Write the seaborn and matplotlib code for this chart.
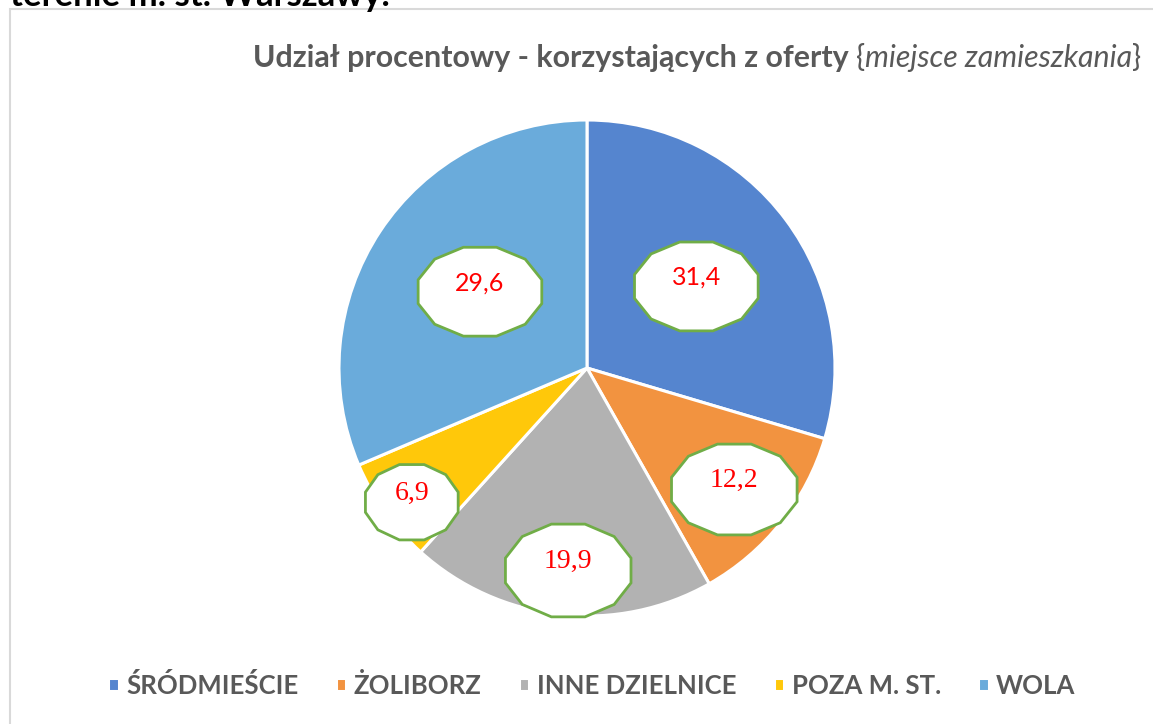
import numpy as np
import matplotlib
matplotlib.use("Agg")
import matplotlib.pyplot as plt
import seaborn as sns
from matplotlib.patches import Polygon, Rectangle

# ---- data ----
categories = ["ŚRÓDMIEŚCIE", "ŻOLIBORZ", "INNE DZIELNICE", "POZA M. ST.", "WOLA"]
slice_values = [29.6, 12.2, 19.9, 6.9, 31.4]          # wedge sizes as drawn
label_texts = ["31,4", "12,2", "19,9", "6,9", "29,6"]  # data labels as shown
colors = ["#5585CF", "#F29340", "#B2B2B2", "#FFC80A", "#6AABDB"]

title_bold = "Udział procentowy - korzystających z oferty "
title_italic = "miejsce zamieszkania"
header_text = "terenie m. st. Warszawy."

sns.set_theme(style="white")

W, H = 1153, 724
fig = plt.figure(figsize=(W / 100, H / 100), dpi=100)
fig.patch.set_facecolor("white")

R = 248.0
cx, cy = 587.0, 368.0
ax = fig.add_axes([0, 0, 1, 1])

wedges, _ = ax.pie(slice_values, colors=colors, startangle=90, counterclock=False,
                   radius=1.0, wedgeprops=dict(edgecolor="white", linewidth=2.2))
ax.set_aspect("auto")
ax.set_xlim(-cx / R, (W - cx) / R)
ax.set_ylim(-(H - cy) / R, cy / R)
ax.axis("off")

# data labels in dodecagon shapes
rfrac = [0.55, 0.77, 0.82, 0.89, 0.53]
angle_shift = [0, -1, 1, 2, -2]
half_w = [64, 65, 65, 48, 64]
half_h = [46, 47, 48, 39, 46]
fonts = ["Lato", "Liberation Serif", "Liberation Serif", "Liberation Serif", "Lato"]
fsizes = [18, 20, 20, 20, 18]
angs = np.deg2rad(15 + 30 * np.arange(12))
for w, txt, rf, sh, hw, hh, fn, fs in zip(wedges, label_texts, rfrac, angle_shift,
                                          half_w, half_h, fonts, fsizes):
    mid = np.deg2rad((w.theta1 + w.theta2) / 2 + sh)
    x, y = rf * np.cos(mid), rf * np.sin(mid)
    verts = np.column_stack([x + hw / R * np.cos(angs), y + hh / R * np.sin(angs)])
    ax.add_patch(Polygon(verts, closed=True, facecolor="white", edgecolor="#70AD47",
                         linewidth=2.0, zorder=5))
    ax.text(x, y + 9 / R, txt, color="#FF0000", fontsize=fs, family=fn,
            ha="center", va="center", zorder=6)

# legend
leg = ax.legend(wedges, categories, ncol=5, loc="center",
                bbox_to_anchor=(592 / W, 1 - 685 / H), bbox_transform=fig.transFigure,
                frameon=False, handlelength=0.4, handleheight=0.4,
                handletextpad=0.3, columnspacing=1.45,
                prop=dict(family="Lato", weight="bold", size=18.5))
for t in leg.get_texts():
    t.set_color("#595959")

# chart border
fig.add_artist(Rectangle((10 / W, -0.1), 1.2, 1 - 9.5 / H + 0.1, transform=fig.transFigure,
                         facecolor="none", edgecolor="#D9D9D9", linewidth=1.5))

# header (cut off at top, as in the source)
fig.text(10 / W, 1 - 6 / H, header_text, fontsize=25, family="Lato", weight="bold",
         color="black", ha="left", va="baseline")

# title pieces, fitted to width
renderer = fig.canvas.get_renderer()
pieces = [(title_bold, "normal", "bold"), ("{", "normal", "normal"),
          (title_italic, "italic", "normal"), ("}", "normal", "normal")]
target_w = 1143 - 253
base = 20
def measure(size):
    tot = 0
    for s, st, wt in pieces:
        t = fig.text(0, 0, s, fontsize=size, family="Lato", style=st, weight=wt)
        tot += t.get_window_extent(renderer).width
        t.remove()
    return tot
size = base * target_w / measure(base)
xpos = 253
for s, st, wt in pieces:
    t = fig.text(xpos / W, 1 - 67 / H, s, fontsize=size, family="Lato", style=st,
                 weight=wt, color="#595959", ha="left", va="baseline")
    xpos += t.get_window_extent(renderer).width

fig.savefig("out.png", dpi=100)
